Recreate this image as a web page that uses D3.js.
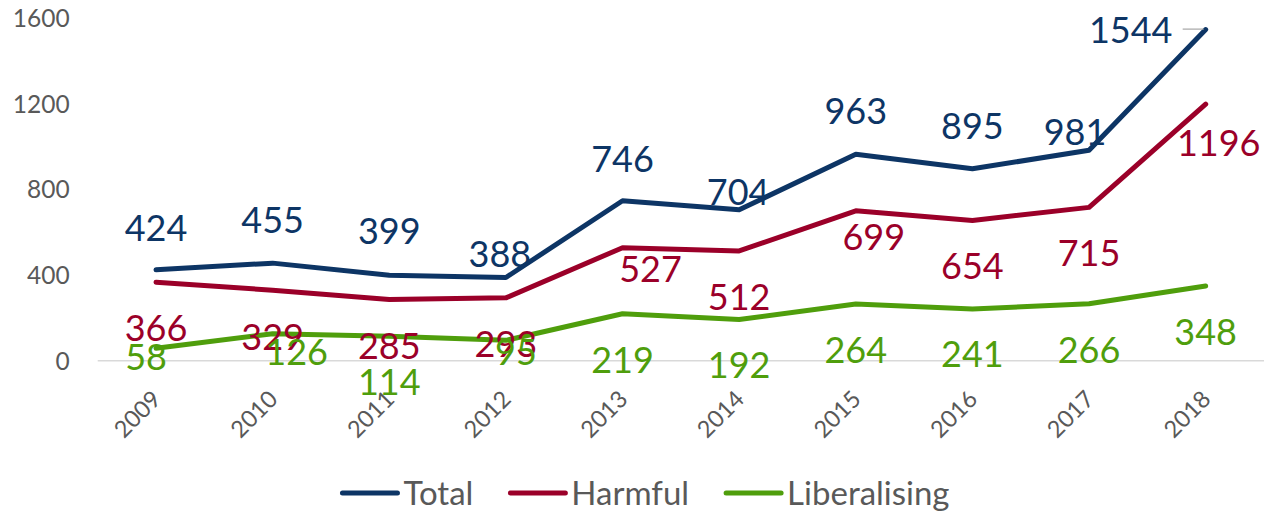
<!DOCTYPE html>
<html>
<head>
<meta charset="utf-8">
<script src="https://cdn.jsdelivr.net/npm/d3@7/dist/d3.min.js"></script>
<style>
  html, body { margin: 0; padding: 0; background: #ffffff; }
  svg { display: block; font-family: Lato, "Noto Sans", sans-serif; }
</style>
</head>
<body>
<svg id="chart" width="1264" height="511"></svg>
<script>
// Interventions per year, 2009-2018
const years = ["2009", "2010", "2011", "2012", "2013", "2014", "2015", "2016", "2017", "2018"];
const total = [424, 455, 399, 388, 746, 704, 963, 895, 981, 1544];
const harmful = [366, 329, 285, 293, 527, 512, 699, 654, 715, 1196];
const liberalising = [58, 126, 114, 95, 219, 192, 264, 241, 266, 348];
const yTicks = [0, 400, 800, 1200, 1600];
const seriesNames = ["Total", "Harmful", "Liberalising"];

// Label placement: centre offset (px) of each value label from its point
const totalLabelShift = [[0,-42],[0,-43],[0,-44],[-6,-23],[0,-42],[-1,-18],[0,-43],[0,-43],[-14,-18],[-75,0]];
const harmfulLabelShift = [[0,46],[0,47],[0,46],[0,46],[28,21],[0,46],[18,26],[0,46],[0,46],[13,39]];
const liberalisingLabelShift = [[-10,9],[24,18],[0,46],[10,12],[0,46],[0,46],[0,46],[0,45],[0,46],[0,46]];

const colors = { Total: "#0d3565", Harmful: "#9b0029", Liberalising: "#4f9e0c" };

const series = [
  { name: seriesNames[0], values: total, shift: totalLabelShift },
  { name: seriesNames[1], values: harmful, shift: harmfulLabelShift },
  { name: seriesNames[2], values: liberalising, shift: liberalisingLabelShift }
];

const svg = d3.select("#chart");
const plotLeft = 97.7, plotRight = 1264;

const x = d3.scalePoint().domain(years).range([plotLeft, plotRight]).padding(0.5);
const y = d3.scaleLinear().domain([0, 1600]).range([360.7, 17.6]);

// Zero baseline
svg.append("line")
  .attr("x1", plotLeft).attr("x2", plotRight)
  .attr("y1", y(0)).attr("y2", y(0))
  .attr("stroke", "#d9d9d9").attr("stroke-width", 1.5);

// Y axis labels
const yAxis = svg.append("g")
  .attr("transform", `translate(${plotLeft},0)`)
  .call(d3.axisLeft(y).tickValues(yTicks).tickSize(0).tickPadding(28).tickFormat(d3.format("d")));
yAxis.select(".domain").remove();
yAxis.selectAll("text")
  .attr("fill", "#595959")
  .style("font-size", "24.5px")
  .style("font-family", "Lato, 'Noto Sans', sans-serif")
  .attr("dy", "0.36em");

// X axis labels, rotated
const xAxis = svg.append("g")
  .attr("transform", `translate(0,${y(0)})`)
  .call(d3.axisBottom(x).tickSize(0));
xAxis.select(".domain").remove();
xAxis.selectAll("text")
  .attr("fill", "#595959")
  .style("font-size", "23.5px")
  .style("font-family", "Lato, 'Noto Sans', sans-serif")
  .attr("text-anchor", "end")
  .attr("y", 0).attr("dy", 0)
  .attr("transform", "translate(6,40) rotate(-45)");

// Lines
const line = d3.line()
  .x((d, i) => x(years[i]))
  .y(d => y(d));

svg.append("g").selectAll("path")
  .data(series)
  .join("path")
  .attr("d", s => line(s.values))
  .attr("fill", "none")
  .attr("stroke", s => colors[s.name])
  .attr("stroke-width", 5)
  .attr("stroke-linejoin", "round")
  .attr("stroke-linecap", "round");

// Leader line for the last Total label
const lastIdx = years.length - 1;
svg.append("line")
  .attr("x1", x(years[lastIdx]) + totalLabelShift[lastIdx][0] + 52)
  .attr("x2", x(years[lastIdx]) - 2)
  .attr("y1", y(total[lastIdx]) - 0.5)
  .attr("y2", y(total[lastIdx]) - 0.5)
  .attr("stroke", "#a6a6a6").attr("stroke-width", 1.2);

// Value labels
series.forEach(s => {
  svg.append("g").selectAll("text")
    .data(s.values)
    .join("text")
    .attr("x", (d, i) => x(years[i]) + s.shift[i][0])
    .attr("y", (d, i) => y(d) + s.shift[i][1])
    .attr("dy", "0.36em")
    .attr("text-anchor", "middle")
    .attr("fill", colors[s.name])
    .style("font-size", "36px")
    .text(d => d);
});

// Legend
const legend = svg.append("g");
const items = legend.selectAll("g")
  .data(seriesNames)
  .join("g");
items.append("line")
  .attr("x1", 0).attr("x2", 55)
  .attr("y1", 0).attr("y2", 0)
  .attr("stroke", d => colors[d])
  .attr("stroke-width", 5)
  .attr("stroke-linecap", "round");
items.append("text")
  .attr("x", 61)
  .attr("y", 0)
  .attr("dy", "0.36em")
  .attr("fill", "#595959")
  .style("font-size", "33px")
  .text(d => d);

let offset = 0;
const positions = [];
items.each(function () {
  const w = 61 + this.querySelector("text").getComputedTextLength();
  positions.push(offset);
  offset += w + 37;
});
const legendWidth = offset - 37;
const legendStart = 646 - legendWidth / 2;
items.attr("transform", (d, i) => `translate(${legendStart + positions[i]},493)`);
</script>
</body>
</html>
